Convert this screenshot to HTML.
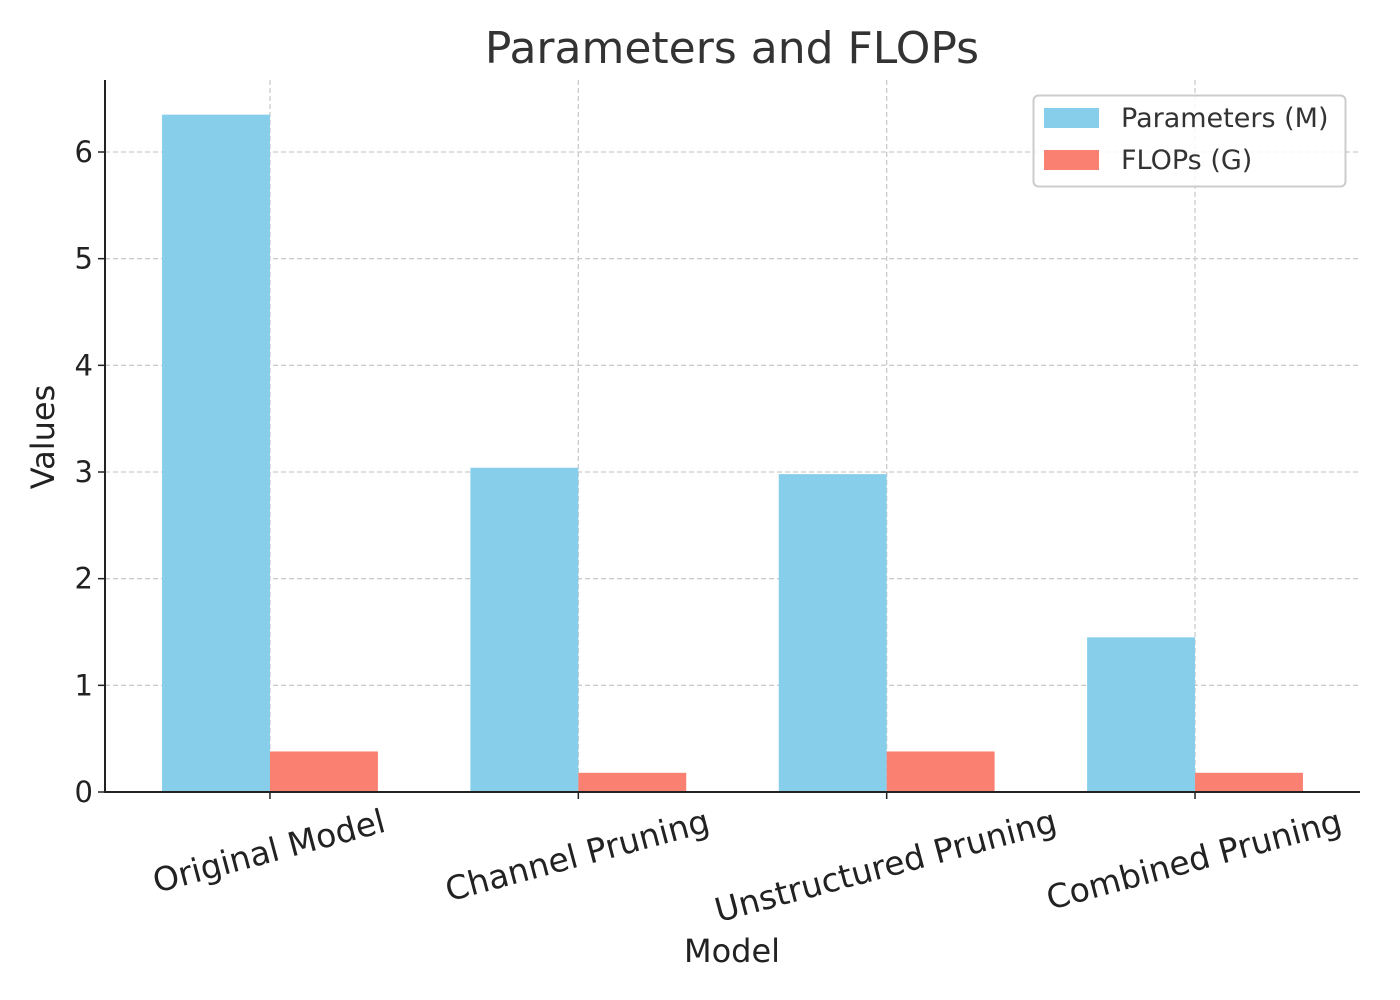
<!DOCTYPE html>
<html><head><meta charset="utf-8"><style>
body{margin:0;background:#fff}
svg{display:block;font-family:"DejaVu Sans","Liberation Sans",sans-serif}
</style></head><body>
<svg id="chart" width="1400" height="1000" xmlns="http://www.w3.org/2000/svg">
<text x="732" y="63" font-size="44" fill="#333" text-anchor="middle">Parameters and FLOPs</text>
<g id="grid"></g>
<g id="bars"></g>
<g id="axes"></g>
<text x="732" y="962" font-size="32" fill="#222" text-anchor="middle">Model</text>
<text transform="translate(54,437) rotate(-90)" font-size="32" fill="#222" text-anchor="middle">Values</text>
<g>
<rect x="1033.5" y="95.5" width="312" height="91" rx="5" fill="#fff" fill-opacity="0.85" stroke="#ccc" stroke-width="2"/>
<g><rect x="1044" y="108" width="55" height="20" fill="#87CEEB"/><text x="1121" y="127" font-size="27" fill="#333">Parameters (M)</text></g>
<g><rect x="1044" y="150" width="55" height="20" fill="#FA8072"/><text x="1121" y="169" font-size="27" fill="#333">FLOPs (G)</text></g>
</g>
</svg>
<script>
const categories=["Original Model","Channel Pruning","Unstructured Pruning","Combined Pruning"];
const paramsValues=[6.35,3.04,2.98,1.45];
const flopsValues=[0.38,0.18,0.38,0.18];
const yTicks=[0,1,2,3,4,5,6];
const NS="http://www.w3.org/2000/svg";
const L=105,R=1360,T=80,B=792;
const xmin=-0.535,xmax=3.535,ymax=6.675;
const xs=v=>L+(v-xmin)/(xmax-xmin)*(R-L);
const ys=v=>B-v/ymax*(B-T);
function mk(tag,a,parent){const e=document.createElementNS(NS,tag);for(const k in a)e.setAttribute(k,a[k]);parent.appendChild(e);return e;}
const grid=document.getElementById('grid'),bars=document.getElementById('bars'),axes=document.getElementById('axes');
const bw=0.35;
yTicks.forEach(t=>{
 const g=mk('line',{x1:L,x2:R,y1:ys(t),y2:ys(t),stroke:'#ccc','stroke-width':1.3,'stroke-dasharray':'5,3'},grid);
 
 
 const tk=mk('line',{x1:L-7,x2:L,y1:ys(t),y2:ys(t),stroke:'#222','stroke-width':1.5},axes);
 
 
 const lb=mk('text',{x:L-12,y:ys(t)+10,'font-size':29,fill:'#222','text-anchor':'end'},axes);
 lb.textContent=t;
 
 
});
const s=Math.sin(15*Math.PI/180),co=Math.cos(15*Math.PI/180);
categories.forEach((c,i)=>{
 const g=mk('line',{x1:xs(i),x2:xs(i),y1:T,y2:B,stroke:'#ccc','stroke-width':1.3,'stroke-dasharray':'5,3'},grid);
 
 
 const p=mk('rect',{x:xs(i-bw),y:ys(paramsValues[i]),width:xs(i)-xs(i-bw),height:B-ys(paramsValues[i]),fill:'#87CEEB'},bars);
 
 
 const f=mk('rect',{x:xs(i),y:ys(flopsValues[i]),width:xs(i+bw)-xs(i),height:B-ys(flopsValues[i]),fill:'#FA8072'},bars);
 
 
 const tk=mk('line',{x1:xs(i),x2:xs(i),y1:B,y2:B+7,stroke:'#222','stroke-width':1.5},axes);
 
 
 const lb=mk('text',{'font-size':33,fill:'#222','text-anchor':'middle',y:11},axes);
 lb.textContent=c;
 
 
 const w=lb.getComputedTextLength();
 const h=w*s+33*1.1*co;
 lb.setAttribute('transform',`translate(${xs(i)-1},${B+11+h/2}) rotate(-15)`);
});
const la=mk('line',{x1:L,x2:L,y1:T,y2:B+1,stroke:'#222','stroke-width':2},axes);


const ba=mk('line',{x1:L-1,x2:R,y1:B,y2:B,stroke:'#222','stroke-width':2},axes);


</script>
</body></html>
